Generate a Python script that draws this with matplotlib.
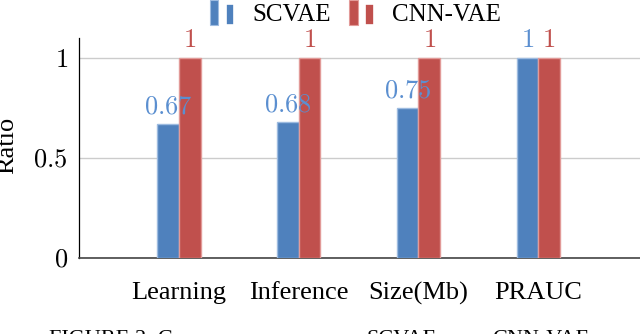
import matplotlib
matplotlib.use("Agg")
import matplotlib.pyplot as plt
import numpy as np
from matplotlib.legend_handler import HandlerBase
from matplotlib.patches import Rectangle

categories = ["Learning", "Inference", "Size(Mb)", "PRAUC"]
scvae = [0.67, 0.68, 0.75, 1.0]
cnn_vae = [1.0, 1.0, 1.0, 1.0]
scvae_labels = ["0.67", "0.68", "0.75", "1"]
cnn_labels = ["1", "1", "1", "1"]

BLUE = "#4f81bd"
BLUE_EDGE = "#9dbbe0"
RED = "#c0504d"
RED_EDGE = "#e29a98"
BLUE_TXT = "#5b8fd0"

plt.rcParams["font.family"] = ["Liberation Serif", "DejaVu Serif"]
plt.rcParams["mathtext.fontset"] = "cm"


class TwoBarHandler(HandlerBase):
    # pgfplots-style ybar legend glyph: two small bars
    def create_artists(self, legend, orig, xd, yd, w, h, fontsize, trans):
        fc = orig.get_facecolor()
        ec = orig.get_edgecolor()
        bw = w * 0.34
        a = Rectangle((xd, yd - 0.25 * h), bw, h * 1.45, fc=fc, ec=ec, lw=0.8, transform=trans)
        b = Rectangle((xd + w * 0.64, yd - 0.25 * h), bw, h * 1.2, fc=fc, ec="white", lw=1.2, transform=trans)
        return [a, b]


fig = plt.figure(figsize=(6.4, 3.34), dpi=100)
ax = fig.add_axes([0.1234, 0.2275, 0.8766, 0.6587])

x = np.arange(len(categories))
w = 0.18
b1 = ax.bar(x - w / 2, scvae, w, color=BLUE, edgecolor=BLUE_EDGE, lw=1.0, zorder=3)
b2 = ax.bar(x + w / 2, cnn_vae, w, color=RED, edgecolor=RED_EDGE, lw=1.0, zorder=3)

for xi, v, s in zip(x, scvae, scvae_labels):
    ax.annotate(f"${s}$", (xi - w / 2, v), xytext=(0, 4), textcoords="offset points",
                ha="center", va="bottom", color=BLUE_TXT, fontsize=19, zorder=4)
for xi, v, s in zip(x, cnn_vae, cnn_labels):
    ax.annotate(f"${s}$", (xi + w / 2, v), xytext=(0, 4), textcoords="offset points",
                ha="center", va="bottom", color=RED, fontsize=19, zorder=4)

ax.set_xlim(-0.835, 3.85)
ax.set_ylim(0, 1.1)
ax.set_xticks(x)
ax.set_xticklabels(categories, fontsize=19)
ax.set_yticks([0, 0.5, 1])
ax.set_yticklabels(["$0$", "$0.5$", "$1$"], fontsize=19)
ax.tick_params(axis="both", length=0)
ax.tick_params(axis="x", pad=17)
ax.tick_params(axis="y", pad=8)
ax.set_ylabel("Ratio", fontsize=19)
ax.yaxis.set_label_coords(-0.109, 0.51)

ax.yaxis.grid(True, color="#cccccc", lw=1.0, zorder=0)
ax.spines["top"].set_visible(False)
ax.spines["right"].set_visible(False)
ax.spines["bottom"].set_color("#444444")
ax.spines["bottom"].set_linewidth(1.2)
ax.spines["left"].set_linewidth(0.9)

leg = fig.legend(handles=[b1[0], b2[0]], labels=["SCVAE", "CNN-VAE"], loc="lower center",
                 bbox_to_anchor=(0.555, 0.88), ncol=2, fontsize=18, frameon=True,
                 framealpha=1, edgecolor="white", handlelength=1.0, columnspacing=0.72,
                 handletextpad=0.72, borderpad=0.08,
                 handler_map={Rectangle: TwoBarHandler()})
leg.set_zorder(5)

# caption of the source page, cut off by the bottom edge
for cx, txt in [(49, "FIGURE 2: C"), (367, "SCVAE"), (492, "CNN-VAE")]:
    fig.text(cx / 640, 1 - 330 / 334, txt, fontsize=16, ha="left", va="top")

fig.savefig("out.png", dpi=100)
